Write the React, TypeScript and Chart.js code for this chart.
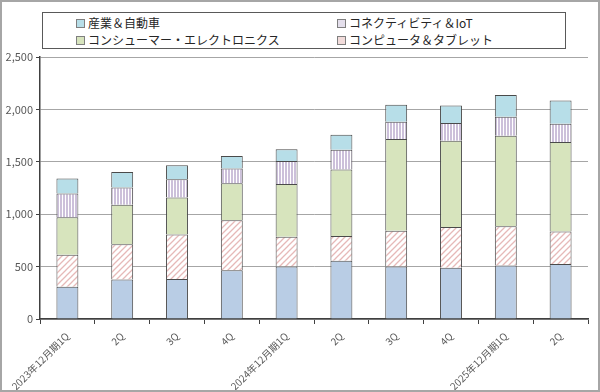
import React, { useEffect, useRef } from "react";
import { Chart, registerables } from "chart.js";

Chart.register(...registerables);

const categories = [
  "2023年12月期1Q", "2Q", "3Q", "4Q",
  "2024年12月期1Q", "2Q", "3Q", "4Q",
  "2025年12月期1Q", "2Q",
];
const bottomSeries = [308, 378, 381, 464, 502, 555, 502, 489, 511, 524];
const computerTablet = [304, 336, 426, 479, 282, 238, 339, 390, 375, 311];
const consumerElec = [359, 375, 352, 352, 505, 633, 876, 823, 863, 854];
const connectivityIoT = [226, 165, 174, 140, 219, 190, 166, 168, 181, 174];
const industrialAuto = [143, 149, 134, 120, 111, 143, 162, 168, 207, 223];
const yTicks = [0, 500, 1000, 1500, 2000, 2500];

const legendItems = [
  { label: "産業＆自動車", color: "#b7dee8", x: 76, y: 15 },
  { label: "コネクティビティ＆IoT", color: "#e4dfec", x: 337, y: 15 },
  { label: "コンシューマー・エレクトロニクス", color: "#d7e4bd", x: 76, y: 32 },
  { label: "コンピュータ＆タブレット", color: "#f2dcdb", x: 337, y: 32 },
];

function diagPattern(ctx: CanvasRenderingContext2D) {
  const c = document.createElement("canvas");
  c.width = 6;
  c.height = 6;
  const g = c.getContext("2d")!;
  g.fillStyle = "#ffffff";
  g.fillRect(0, 0, 6, 6);
  g.strokeStyle = "#e6b9b8";
  g.lineWidth = 1.3;
  g.beginPath();
  g.moveTo(-1, 7); g.lineTo(7, -1);
  g.moveTo(-4, 4); g.lineTo(4, -4);
  g.moveTo(2, 10); g.lineTo(10, 2);
  g.stroke();
  return ctx.createPattern(c, "repeat")!;
}

function vertPattern(ctx: CanvasRenderingContext2D) {
  const c = document.createElement("canvas");
  c.width = 3;
  c.height = 3;
  const g = c.getContext("2d")!;
  g.fillStyle = "#ffffff";
  g.fillRect(0, 0, 3, 3);
  g.fillStyle = "#ccc0da";
  g.fillRect(0, 0, 2, 3);
  return ctx.createPattern(c, "repeat")!;
}

export default function App() {
  const ref = useRef<HTMLCanvasElement | null>(null);

  useEffect(() => {
    document.body.style.margin = "0";
    const canvas = ref.current!;
    const ctx = canvas.getContext("2d")!;
    const fontFamily = "'Noto Sans CJK JP', 'Noto Sans', sans-serif";
    const border = "#404040";
    const chart = new Chart(ctx, {
      type: "bar",
      data: {
        labels: categories,
        datasets: [
          { label: "", data: bottomSeries, backgroundColor: "#b9cde5" },
          { label: "コンピュータ＆タブレット", data: computerTablet, backgroundColor: diagPattern(ctx) },
          { label: "コンシューマー・エレクトロニクス", data: consumerElec, backgroundColor: "#d7e4bd" },
          { label: "コネクティビティ＆IoT", data: connectivityIoT, backgroundColor: vertPattern(ctx) },
          { label: "産業＆自動車", data: industrialAuto, backgroundColor: "#b7dee8" },
        ].map((d) => ({
          ...d,
          borderColor: "#4a4a4a",
          borderWidth: 1,
          borderSkipped: "bottom",
          barPercentage: 0.4,
          categoryPercentage: 1,
        })) as any,
      },
      options: {
        responsive: false,
        animation: false,
        layout: { padding: { left: 0, right: 12, top: 57, bottom: 0 } },
        plugins: { legend: { display: false }, tooltip: { enabled: false } },
        scales: {
          x: {
            stacked: true,
            offset: true,
            grid: {
              offset: true,
              drawOnChartArea: false,
              tickLength: 5,
              tickColor: border,
            },
            border: { display: true, color: border, width: 1.5 },
            ticks: {
              autoSkip: false,
              minRotation: 45,
              maxRotation: 45,
              color: "#595959",
              font: { family: fontFamily, size: 10 },
              padding: 6,
            },
            afterFit: (s: any) => { s.height = 73; },
          },
          y: {
            stacked: true,
            min: 0,
            max: 2500,
            afterBuildTicks: (s: any) => { s.ticks = yTicks.map((v) => ({ value: v })); },
            grid: { color: "#a6a6a6", tickLength: 4, tickColor: border, lineWidth: 1 },
            border: { display: true, color: border, width: 1.5 },
            ticks: {
              color: "#595959",
              font: { family: fontFamily, size: 11 },
              padding: 3,
              callback: (v: any) => Number(v).toLocaleString("en-US"),
            },
            afterFit: (s: any) => { s.width = 40; },
          },
        },
      },
    });
    return () => chart.destroy();
  }, []);

  return (
    <div style={{ position: "relative", width: 600, height: 392, overflow: "hidden", background: "#fff" }}>
      <canvas ref={ref} width={600} height={392} style={{ position: "absolute", left: 0, top: 0, width: 600, height: 392 }} />
      <div
        style={{
          position: "absolute", left: 42, top: 12, width: 524, height: 37,
          border: "1px solid #595959", boxSizing: "border-box", background: "#fff",
        }}
      />
      {legendItems.map((it) => (
        <div
          key={it.label}
          style={{
            position: "absolute", left: it.x, top: it.y, height: 14, display: "flex", alignItems: "center",
            fontFamily: "'Noto Sans CJK JP', sans-serif", fontSize: 12, color: "#262626", whiteSpace: "nowrap",
          }}
        >
          <span
            style={{
              display: "inline-block", width: 7, height: 7, background: it.color,
              border: "1px solid #7f7f7f", marginRight: 3, marginTop: 2,
            }}
          />
          {it.label}
        </div>
      ))}
      <div
        style={{
          position: "absolute", left: 0, top: 0, width: 600, height: 392,
          border: "2px solid #a6a6a6", boxSizing: "border-box", pointerEvents: "none",
        }}
      />
    </div>
  );
}
